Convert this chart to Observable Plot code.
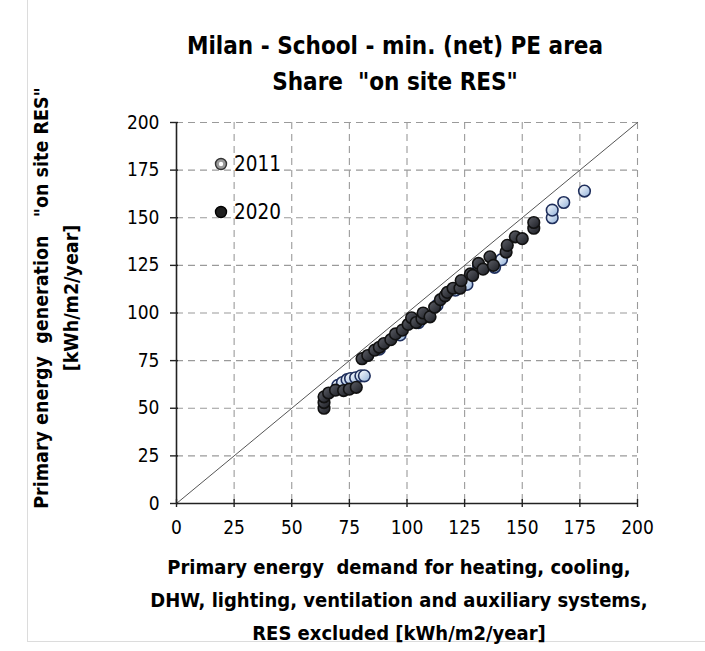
<!DOCTYPE html>
<html>
<head>
<meta charset="utf-8">
<script src="https://cdn.jsdelivr.net/npm/d3@7"></script>
<script src="https://cdn.jsdelivr.net/npm/@observablehq/plot@0.6"></script>
<style>
  html, body { margin: 0; padding: 0; background: #fff; }
  #wrap { position: relative; width: 705px; height: 651px; overflow: hidden; background: #fff;
          font-family: "DejaVu Sans Condensed", "Liberation Sans", sans-serif; }
  #frame { position: absolute; left: 27px; top: -2px; width: 690px; height: 642px; border: 1px solid #dcdcdc; }
  .t { position: absolute; white-space: nowrap; color: #000; }
  #title { left: 0; width: 790px; top: 28px; text-align: center; font-weight: bold; font-size: 24px; line-height: 36px; }
  #xlab { left: 0; width: 798px; top: 551px; text-align: center; font-weight: bold; font-size: 20px; line-height: 33px; }
  #ylab { left: 57px; top: 298px; transform: translate(-50%, -50%) rotate(-90deg); text-align: center; font-weight: bold; font-size: 19.5px; line-height: 30px; }
  #legend { left: 214px; top: 140px; font-size: 20.5px; line-height: 48px; }
  #legend div { display: flex; align-items: center; }
  #legend svg { margin-right: 6px; }
  #chart { position: absolute; left: 0; top: 0; }
</style>
</head>
<body>
<div id="wrap">
  <div id="frame"></div>
  <div id="chart"></div>
  <div class="t" id="title">Milan - School - min. (net) PE area<br>Share&nbsp; "on site RES"</div>
  <div class="t" id="xlab">Primary energy&nbsp; demand for heating, cooling,<br>DHW, lighting, ventilation and auxiliary systems,<br>RES excluded [kWh/m2/year]</div>
  <div class="t" id="ylab">Primary energy&nbsp; generation&nbsp;&nbsp; "on site RES"<br>[kWh/m2/year]</div>
  <div class="t" id="legend"></div>
</div>
<script>
// ---- data ----
const seriesNames = ["2011", "2020"];
const xTicks = [0, 25, 50, 75, 100, 125, 150, 175, 200];
const yTicks = [0, 25, 50, 75, 100, 125, 150, 175, 200];
const diagonal = [0, 200];

// 2011 series: [demand, generation]
const x2011 = [70, 72, 74, 75.5, 77.7, 80, 81.5, 88, 97, 105, 113, 121, 126, 131, 138, 141, 163, 163, 168, 177];
const y2011 = [62, 63.5, 65, 65.6, 66, 67, 67, 81, 88.5, 95, 104, 112, 115, 125, 124, 128, 150, 154, 158, 164];

// 2020 series
const x2020 = [64, 64, 64, 66, 69, 72.5, 75, 78, 80.5, 83, 86, 88, 90, 93, 95, 98, 100.5, 102, 104, 106.5, 107, 110, 112, 114.5, 116.5, 117.5, 120, 123, 123.5, 127.5, 128.5, 131, 133, 136, 137.5, 143, 143.5, 147, 150, 155, 155];
const y2020 = [50, 53, 56, 58, 59.5, 59.3, 60, 61, 76, 77.7, 80.5, 82, 84, 86, 89, 91, 94, 97.5, 95, 97, 100, 98, 103, 107, 109, 110.8, 113, 113, 117, 120.5, 119.7, 126, 123, 129.5, 125, 132, 135.5, 140, 139, 144.5, 147.5];

const d2011 = x2011.map((x, i) => ({x, y: y2011[i]}));
const d2020 = x2020.map((x, i) => ({x, y: y2020[i]}));

const font = '"DejaVu Sans Condensed", "Liberation Sans", sans-serif';

const chart = Plot.plot({
  width: 705,
  height: 651,
  marginTop: 122,
  marginBottom: 148,
  marginLeft: 176,
  marginRight: 68,
  x: {domain: [0, 200], label: null},
  y: {domain: [0, 200], label: null},
  style: {fontFamily: font, fontSize: "19px", color: "#000", background: "transparent", overflow: "visible"},
  marks: [
    Plot.gridX(xTicks.filter(d => d > 0), {stroke: "#9a9a9a", strokeOpacity: 1, strokeDasharray: "7,5", strokeWidth: 1.1}),
    Plot.gridY(yTicks.filter(d => d > 0), {stroke: "#9a9a9a", strokeOpacity: 1, strokeDasharray: "7,5", strokeWidth: 1.1}),
    Plot.line(diagonal, {x: d => d, y: d => d, stroke: "#555", strokeWidth: 1}),
    Plot.dot(d2011, {x: "x", y: "y", r: 5.8, fill: "url(#g2011)", stroke: "#1f2f5c", strokeWidth: 1.6}),
    Plot.dot(d2020, {x: "x", y: "y", r: 5.8, fill: "url(#g2020)", stroke: "#111", strokeWidth: 1.6}),
    Plot.ruleX([0], {stroke: "#222", strokeWidth: 1.6}),
    Plot.ruleY([0], {stroke: "#222", strokeWidth: 1.6}),
    Plot.axisX(xTicks, {tickSize: 8, dy: -4, tickFormat: () => "", stroke: "#222", strokeWidth: 1.4}),
    Plot.axisX(xTicks, {tickSize: 0, tickPadding: 17, fontSize: 19}),
    Plot.axisY(yTicks, {tickSize: 8, dx: 2, tickFormat: () => "", stroke: "#222", strokeWidth: 1.4}),
    Plot.axisY(yTicks, {tickSize: 0, tickPadding: 17, fontSize: 19})
  ]
});

// gradients for the markers
const defs = d3.select(chart).insert("defs", ":first-child");
const g1 = defs.append("linearGradient").attr("id", "g2011").attr("x1", 0).attr("y1", 0).attr("x2", 1).attr("y2", 1);
g1.append("stop").attr("offset", "0%").attr("stop-color", "#ffffff");
g1.append("stop").attr("offset", "100%").attr("stop-color", "#8fb0da");
const g2 = defs.append("linearGradient").attr("id", "g2020").attr("x1", 0).attr("y1", 0).attr("x2", 1).attr("y2", 1);
g2.append("stop").attr("offset", "0%").attr("stop-color", "#5e6068");
g2.append("stop").attr("offset", "100%").attr("stop-color", "#1a1c22");

document.getElementById("chart").appendChild(chart);

// legend
const leg = d3.select("#legend");
const legStyles = [
  {fill: "#9a9a9a", stroke: "#333", inner: "#fff"},
  {fill: "#1e1e1e", stroke: "#000", inner: "#555"}
];
seriesNames.forEach((name, i) => {
  const row = leg.append("div");
  const s = row.append("svg").attr("width", 14).attr("height", 14);
  s.append("circle").attr("cx", 7).attr("cy", 7).attr("r", 5.5)
    .attr("fill", legStyles[i].fill).attr("stroke", legStyles[i].stroke).attr("stroke-width", 1.4);
  if (i === 0) s.append("circle").attr("cx", 7).attr("cy", 7).attr("r", 2.2).attr("fill", legStyles[i].inner);
  row.append("span").text(name);
});
</script>
</body>
</html>
